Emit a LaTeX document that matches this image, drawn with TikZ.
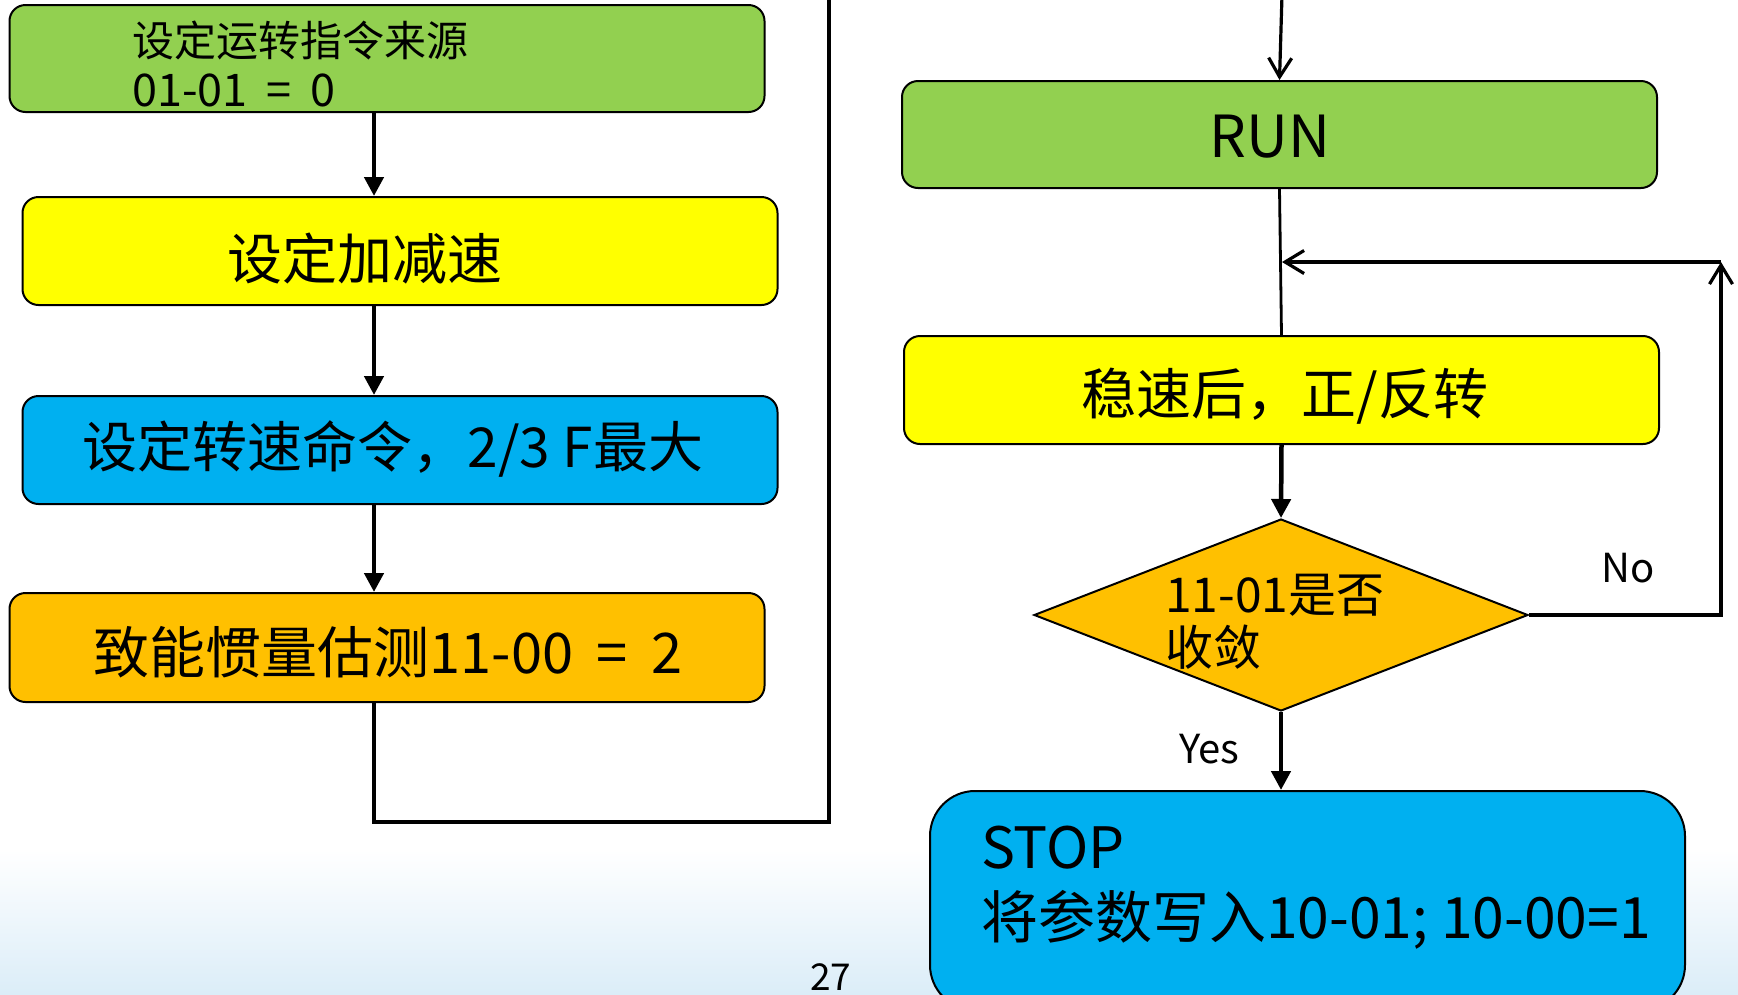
\documentclass[tikz,border=0pt]{standalone}
\usepackage{fontspec}
\newfontfamily\cjk{Noto Sans CJK SC}
\usetikzlibrary{arrows.meta,shapes.geometric}
\definecolor{cgreen}{HTML}{92D050}
\definecolor{cyellow}{HTML}{FFFF00}
\definecolor{cblue}{HTML}{00B0F0}
\definecolor{corange}{HTML}{FFC000}
\definecolor{bgblue}{HTML}{DBEDF8}
\newcommand\setfs[1]{\fontsize{#1}{#1}\selectfont}
\newcommand\wsp{\hspace{0.42em}}
\begin{document}
\begin{tikzpicture}[x=1pt,y=-1pt,
  box/.style={draw=black, line width=2pt, rounded corners=16pt, inner sep=0pt,
              minimum width=755pt, minimum height=108pt},
  txt/.style={inner sep=0pt, text=black},
  flow/.style={line width=4.5pt, -{Triangle[length=19pt,width=19pt]}},
  loopline/.style={line width=4pt},
  openarrow/.style={line width=3.2pt, -{Straight Barb[length=19pt,width=23pt]}},
  thinline/.style={line width=2.8pt}
]
\useasboundingbox (0,0) rectangle (1738,994);
\clip (0,0) rectangle (1738,994);
% background band
\fill[top color=white, bottom color=bgblue] (0,850) rectangle (1738,994);

% ---------- left column ----------
\coordinate (ax) at (374,0);
\node[box, fill=cgreen, minimum height=107pt] (b1) at (387,58.5) {};
\node[txt, anchor=base west, font=\cjk\setfs{42}] (b1a) at (132,56) {设定运转指令来源};
\node[txt, anchor=base west, font=\cjk\setfs{45}] (b1b) at (132,106) {01-01\wsp=\wsp0};

\node[box, fill=cyellow] (b2) at (400,251) {};
\node[txt, font=\cjk\setfs{55}] (b2t) at (365,259) {设定加减速};

\node[box, fill=cblue] (b3) at (400,450) {};
\node[txt, font=\cjk\setfs{55}] (b3t) at (393,449) {设定转速命令，2/3 F最大};

\node[box, fill=corange, minimum height=109pt] (b4) at (387,647.5) {};
\node[txt, font=\cjk\setfs{56}] (b4t) at (388,652) {致能惯量估测11-00\wsp=\wsp2};

\draw[flow] (b1.south -| ax) -- (b2.north -| ax);
\draw[flow] (b2.south -| ax) -- (b3.north -| ax);
\draw[flow] (b3.south -| ax) -- (b4.north -| ax);

\coordinate (c1) at (374,822);
\coordinate (c2) at (829,822);
\coordinate (c3) at (829,-5);
\draw[loopline] (b4.south -| ax) -- (c1) -- (c2) -- (c3);

% ---------- right column ----------
\node[box, fill=cgreen, minimum height=107pt] (run) at (1279.5,134.5) {};
\node[txt, font=\cjk\setfs{58}] (runt) at (1270,137) {RUN};
\coordinate (c4) at (1282,-5);
\draw[openarrow] (c4) -- (run.north);

\node[box, fill=cyellow] (y2) at (1281.5,390) {};
\node[txt, font=\cjk\setfs{55}] (y2t) at (1285,396) {稳速后，正/反转};
\draw[thinline] (run.south) -- (y2.north);

\node[draw=black, line width=2pt, fill=corange, shape=diamond, inner sep=0pt,
      minimum width=494pt, minimum height=192pt] (dia) at (1281,615) {};
\node[txt, anchor=base west, font=\cjk\setfs{48}] (diat1) at (1165,612) {11-01是否};
\node[txt, anchor=base west, font=\cjk\setfs{48}] (diat2) at (1165,665) {收敛};
\draw[flow] (y2.south) -- (dia.north);

% No loop
\coordinate (n1) at (1721,615);
\coordinate (n2) at (1721,262);
\coordinate (n3) at (1282,262);
\draw[openarrow] (dia.east) -- (n1) -- (n2);
\draw[openarrow] (n2) -- (n3);
\node[txt, anchor=base west, font=\cjk\setfs{40}] (no) at (1601,582) {No};

% STOP
\node[draw=black, line width=2pt, rounded corners=45pt, fill=cblue, inner sep=0pt,
      minimum width=755pt, minimum height=219pt] (stop) at (1307.5,900.5) {};
\draw[flow] (dia.south) -- (stop.north -| dia.south);
\node[txt, anchor=base west, font=\cjk\setfs{40}] (yes) at (1179,763) {Yes};
\node[txt, anchor=base west, font=\cjk\setfs{57}] (stopa) at (981,868) {STOP};
\node[txt, anchor=base west, font=\cjk\setfs{57}] (stopb) at (981,938) {将参数写入10-01; 10-00=1};

% page number
\node[txt, anchor=base west, font=\cjk\setfs{37}] (pg) at (810,990) {27};
\end{tikzpicture}
\end{document}
